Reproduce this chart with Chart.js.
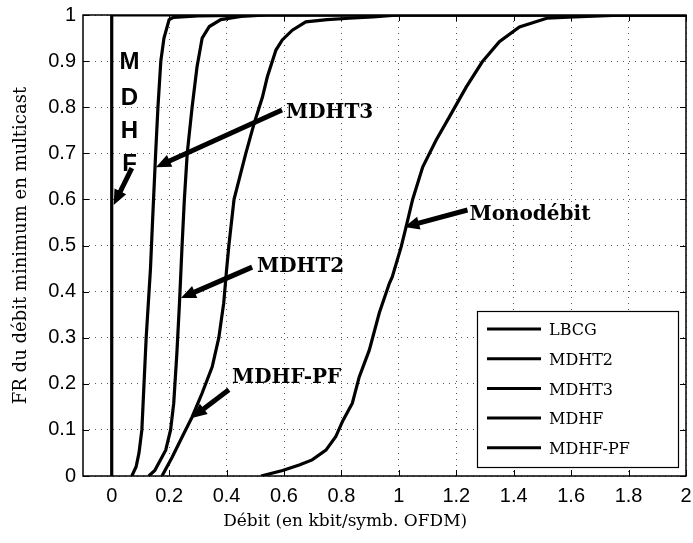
<!DOCTYPE html>
<html>
<head>
<meta charset="utf-8">
<script src="https://cdn.jsdelivr.net/npm/chart.js@4.4.0/dist/chart.umd.min.js"></script>
<style>
  html, body { margin: 0; padding: 0; background: #fff; }
</style>
</head>
<body>
<canvas id="myChart" width="693" height="543"></canvas>
<script>
// tick labels
const xTicks = [0, 0.2, 0.4, 0.6, 0.8, 1, 1.2, 1.4, 1.6, 1.8, 2];
const yTicks = [0, 0.1, 0.2, 0.3, 0.4, 0.5, 0.6, 0.7, 0.8, 0.9, 1];

// series
const seriesNames = ['LBCG', 'MDHT2', 'MDHT3', 'MDHF', 'MDHF-PF'];

const lbcgX = [0.52, 0.595, 0.653, 0.698, 0.746, 0.78, 0.805, 0.838, 0.862, 0.897, 0.932, 0.967, 0.977, 1.008, 1.025, 1.048, 1.083, 1.13, 1.176, 1.235, 1.29, 1.35, 1.42, 1.515, 1.61, 1.79, 2];
const lbcgY = [0, 0.012, 0.024, 0.035, 0.056, 0.085, 0.12, 0.158, 0.215, 0.273, 0.354, 0.418, 0.432, 0.497, 0.54, 0.6, 0.67, 0.729, 0.779, 0.844, 0.898, 0.942, 0.974, 0.993, 0.996, 1, 1];

const mdht2X = [0.129, 0.15, 0.164, 0.188, 0.205, 0.216, 0.227, 0.236, 0.245, 0.253, 0.263, 0.28, 0.297, 0.315, 0.34, 0.38, 0.45, 0.54, 2];
const mdht2Y = [0, 0.012, 0.028, 0.056, 0.1, 0.158, 0.267, 0.375, 0.5, 0.6, 0.7, 0.8, 0.887, 0.95, 0.975, 0.99, 0.997, 1, 1];

const mdht3X = [0.07, 0.085, 0.095, 0.105, 0.12, 0.135, 0.142, 0.153, 0.161, 0.171, 0.182, 0.2, 0.216, 0.3, 0.54, 2];
const mdht3Y = [0, 0.02, 0.05, 0.1, 0.3, 0.45, 0.55, 0.7, 0.8, 0.9, 0.95, 0.99, 0.995, 0.998, 1, 1];

const mdhfX = [0, 0, 2];
const mdhfY = [0, 1, 1];

const mdhfpfX = [0.175, 0.21, 0.24, 0.28, 0.315, 0.35, 0.373, 0.39, 0.4, 0.408, 0.426, 0.467, 0.496, 0.525, 0.542, 0.572, 0.594, 0.629, 0.676, 0.75, 0.827, 0.91, 1.0, 2];
const mdhfpfY = [0, 0.04, 0.078, 0.128, 0.18, 0.237, 0.3, 0.375, 0.447, 0.5, 0.6, 0.7, 0.765, 0.822, 0.866, 0.924, 0.946, 0.967, 0.985, 0.99, 0.993, 0.996, 1, 1];

// annotations (data coordinates)
const annLabels = ['MDHT3', 'MDHT2', 'MDHF-PF', 'Monodébit'];
const annTextX = [0.607, 0.506, 0.419, 1.246];
const annTextY = [0.787, 0.453, 0.213, 0.566];
const arrowTailX = [0.593, 0.489, 0.408, 1.239, 0.07];
const arrowTailY = [0.794, 0.453, 0.187, 0.577, 0.668];
const arrowTipX = [0.154, 0.241, 0.279, 1.019, 0.007];
const arrowTipY = [0.67, 0.386, 0.126, 0.54, 0.588];
const mdhfLetters = ['M', 'D', 'H', 'F'];
const mdhfLetterX = 0.062;
const mdhfLetterY = [0.898, 0.82, 0.748, 0.675];
const xTitle = 'Débit (en kbit/symb. OFDM)';
const xTitleAt = 0.813;

const seriesXs = [lbcgX, mdht2X, mdht3X, mdhfX, mdhfpfX];
const seriesYs = [lbcgY, mdht2Y, mdht3Y, mdhfY, mdhfpfY];

function toPoints(xs, ys) {
  return xs.map((v, i) => ({ x: v, y: ys[i] }));
}

function drawArrow(ctx, x0, y0, x1, y1) {
  const ang = Math.atan2(y1 - y0, x1 - x0);
  const headLen = 15, headW = 13;
  const bx = x1 - Math.cos(ang) * headLen;
  const by = y1 - Math.sin(ang) * headLen;
  ctx.beginPath();
  ctx.moveTo(x0, y0);
  ctx.lineTo(bx + Math.cos(ang) * 2, by + Math.sin(ang) * 2);
  ctx.lineWidth = 5;
  ctx.stroke();
  ctx.beginPath();
  ctx.moveTo(x1, y1);
  ctx.lineTo(bx - Math.sin(ang) * headW / 2, by + Math.cos(ang) * headW / 2);
  ctx.lineTo(bx + Math.sin(ang) * headW / 2, by - Math.cos(ang) * headW / 2);
  ctx.closePath();
  ctx.fill();
}

const extrasPlugin = {
  id: 'extras',
  afterDatasetsDraw(chart) {
    const { ctx, chartArea: a } = chart;
    const x = chart.scales.x, y = chart.scales.y;
    ctx.save();
    ctx.strokeStyle = '#000';
    ctx.fillStyle = '#000';

    // inner tick marks
    ctx.lineWidth = 1;
    ctx.beginPath();
    xTicks.forEach(v => {
      const px = Math.round(x.getPixelForValue(v)) + 0.5;
      ctx.moveTo(px, a.bottom); ctx.lineTo(px, a.bottom - 6);
      ctx.moveTo(px, a.top); ctx.lineTo(px, a.top + 6);
    });
    yTicks.forEach(v => {
      const py = Math.round(y.getPixelForValue(v)) + 0.5;
      ctx.moveTo(a.left, py); ctx.lineTo(a.left + 6, py);
      ctx.moveTo(a.right, py); ctx.lineTo(a.right - 6, py);
    });
    ctx.stroke();

    // frame
    ctx.lineWidth = 1.5;
    ctx.strokeRect(a.left, a.top, a.right - a.left, a.bottom - a.top);

    // arrows
    ctx.lineCap = 'butt';
    for (let i = 0; i < arrowTailX.length; i++) {
      drawArrow(ctx,
        x.getPixelForValue(arrowTailX[i]), y.getPixelForValue(arrowTailY[i]),
        x.getPixelForValue(arrowTipX[i]), y.getPixelForValue(arrowTipY[i]));
    }

    // labels
    ctx.font = 'bold 20px "DejaVu Serif"';
    ctx.textAlign = 'left';
    ctx.textBaseline = 'middle';
    annLabels.forEach((t, i) => {
      ctx.fillText(t, x.getPixelForValue(annTextX[i]), y.getPixelForValue(annTextY[i]));
    });
    ctx.font = 'bold 24px "Liberation Sans"';
    ctx.textAlign = 'center';
    mdhfLetters.forEach((t, i) => {
      ctx.fillText(t, x.getPixelForValue(mdhfLetterX), y.getPixelForValue(mdhfLetterY[i]));
    });

    // x axis title (sits left of the axis centre in the original)
    ctx.font = '17px "DejaVu Serif"';
    ctx.textBaseline = 'middle';
    ctx.fillText(xTitle, x.getPixelForValue(xTitleAt), a.bottom + 46);

    // legend box
    const bw = 201, bh = 156;
    const bx = a.right - 8 - bw, by = a.bottom - 9 - bh;
    ctx.fillStyle = '#fff';
    ctx.fillRect(bx, by, bw, bh);
    ctx.lineWidth = 1.2;
    ctx.strokeRect(bx + 0.5, by + 0.5, bw, bh);
    ctx.fillStyle = '#000';
    ctx.font = '16px "DejaVu Serif"';
    ctx.textAlign = 'left';
    ctx.lineWidth = 3;
    seriesNames.forEach((name, i) => {
      const ry = by + 18 + i * 29.7;
      ctx.beginPath();
      ctx.moveTo(bx + 10, ry); ctx.lineTo(bx + 64, ry);
      ctx.stroke();
      ctx.fillText(name, bx + 72, ry + 2);
    });
    ctx.restore();
  }
};

const ctx = document.getElementById('myChart');
const myChart = new Chart(ctx, {
  type: 'line',
  data: {
    datasets: seriesNames.map((name, i) => ({
      label: name,
      data: toPoints(seriesXs[i], seriesYs[i]),
      borderColor: '#000',
      borderWidth: 3.2,
      pointRadius: 0,
      tension: 0,
      fill: false
    }))
  },
  options: {
    responsive: false,
    animation: false,
    layout: { padding: { left: 0, top: 15, right: 7, bottom: 0 } },
    plugins: {
      legend: { display: false },
      tooltip: { enabled: false }
    },
    scales: {
      x: {
        type: 'linear',
        min: -0.1,
        max: 2,
        afterBuildTicks: s => { s.ticks = xTicks.map(v => ({ value: v })); },
        afterFit: s => { s.height = 67; s.paddingLeft = 0; s.paddingRight = 0; },
        ticks: {
          color: '#000',
          padding: 8,
          maxRotation: 0,
          autoSkip: false,
          font: { family: '"Liberation Sans"', size: 20 },
          callback: v => String(v)
        },
        grid: { color: 'rgba(0,0,0,0.65)', lineWidth: 1, drawTicks: false },
        border: { display: false, dash: [1, 5] },
        title: { display: false }
      },
      y: {
        min: 0,
        max: 1,
        afterBuildTicks: s => { s.ticks = yTicks.map(v => ({ value: v })); },
        afterFit: s => { s.width = 83; s.paddingTop = 0; s.paddingBottom = 0; },
        ticks: {
          color: '#000',
          padding: 7,
          autoSkip: false,
          font: { family: '"Liberation Sans"', size: 20 },
          callback: v => String(v)
        },
        grid: { color: 'rgba(0,0,0,0.65)', lineWidth: 1, drawTicks: false },
        border: { display: false, dash: [1, 5] },
        title: {
          display: true,
          text: 'FR du débit minimum en multicast',
          color: '#000',
          padding: { top: 11, bottom: 0 },
          font: { family: '"DejaVu Serif"', size: 18 }
        }
      }
    }
  },
  plugins: [extrasPlugin]
});
</script>
</body>
</html>
